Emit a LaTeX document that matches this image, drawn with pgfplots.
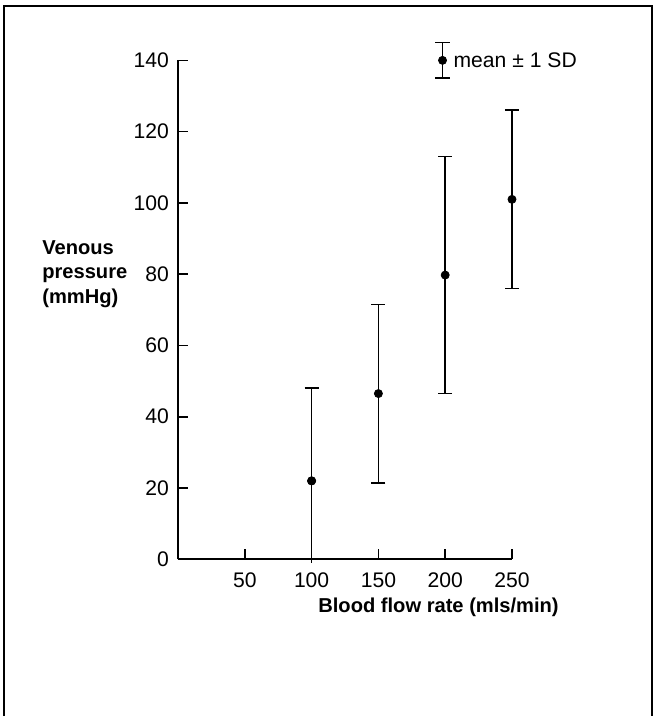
\documentclass[border=0pt]{standalone}
\usepackage{fontspec}
\setmainfont{Liberation Sans}
\usepackage{pgfplots}
\pgfplotsset{compat=1.18}
\begin{document}
\begin{tikzpicture}
\begin{axis}[
  name=ax,
  scale only axis, width=166pt, height=248pt,
  xmin=0, xmax=250, ymin=0, ymax=140,
  axis lines=left,
  x axis line style={-, line width=0.9pt},
  y axis line style={-, line width=0.9pt},
  xtick={50,100,150,200,250}, ytick={0,20,...,140},
  tick pos=left, tick align=inside, major tick length=5pt,
  tick style={line width=0.8pt, black},
  /pgf/number format/assume math mode=true,
  ticklabel style={font=\fontsize{10.5}{12}\selectfont},
  xticklabel style={yshift=-3pt},
  yticklabel style={xshift=-1pt},
  clip=false,
]
% means with +-1 SD
\addplot[only marks, mark=*, black, mark size=2pt,
  error bars/.cd, y dir=both, y explicit,
  error mark options={rotate=90, mark size=3.5pt, line width=0.9pt},
  error bar style={line width=0.9pt}] coordinates {
  (150,46.5) +- (0,25)
  (200,79.75) +- (0,33.25)
  (250,101) +- (0,25)
};
% 100: lower bar runs off the axis
\addplot[only marks, mark=*, black, mark size=2pt,
  error bars/.cd, y dir=plus, y explicit,
  error mark options={rotate=90, mark size=3.5pt, line width=0.9pt},
  error bar style={line width=0.7pt}] coordinates {
  (100,22) +- (0,26)
};
\addplot[only marks, mark=none, black,
  error bars/.cd, y dir=minus, y explicit, error mark=none,
  error bar style={line width=0.7pt}] coordinates {
  (100,22) +- (0,23)
};
% key
\addplot[only marks, mark=*, black, mark size=2pt,
  error bars/.cd, y dir=both, y explicit,
  error mark options={rotate=90, mark size=3.5pt, line width=0.9pt},
  error bar style={line width=0.9pt}] coordinates {
  (198,140) +- (0,5)
};
\node[anchor=west, font=\fontsize{10.5}{12}\selectfont, inner sep=1pt] at ([xshift=3pt]axis cs:200,140) {mean ± 1 SD};
\node[anchor=west, align=left, font=\fontsize{10}{12}\selectfont\bfseries] at ([xshift=-71pt]axis cs:0,80) {Venous\\pressure\\(mmHg)};
\node[font=\fontsize{10}{12}\selectfont\bfseries] at ([yshift=-24pt]axis cs:195,0) {Blood flow rate (mls/min)};
\end{axis}
\draw[line width=0.8pt] ([xshift=-86.5pt,yshift=-78pt]ax.south west) -- ++(0,353pt) -- ++(322pt,0) -- ++(0,-353pt);
\path ([xshift=-88.5pt,yshift=-78pt]ax.south west) rectangle ++(325pt,356pt);
\end{tikzpicture}
\end{document}
